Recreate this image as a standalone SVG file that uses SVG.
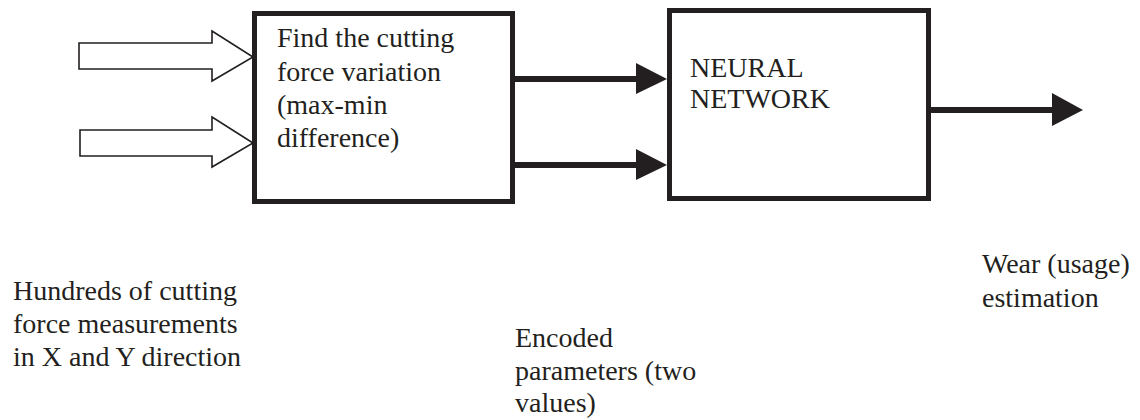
<svg xmlns="http://www.w3.org/2000/svg" width="1140" height="420" viewBox="0 0 1140 420">
  <style>
    .lbl { font-size: 28px; fill: #231f20; }
    .box { fill: #ffffff; stroke: #231f20; stroke-width: 5; }
    .hollow { fill: #ffffff; stroke: #231f20; stroke-width: 1.6; stroke-linejoin: miter; }
    .shaft { stroke: #231f20; stroke-width: 6; fill: none; }
    .head { fill: #231f20; stroke: none; }
  </style>
  <rect width="1140" height="420" fill="#ffffff"/>

  <!-- connectors -->
  <g id="connectors">
    <!-- raw measurement inputs (hollow block arrows) -->
    <path class="hollow" d="M79,43 H212 V31 L253,57 L212,81 V69 H79 Z"/>
    <path class="hollow" d="M80,130 H212 V117 L253,143 L212,167 V156 H80 Z"/>
    <!-- encoded parameters into the network -->
    <line class="shaft" x1="512" y1="79" x2="638" y2="79"/>
    <polygon class="head" points="636,63 667,79 636,94"/>
    <line class="shaft" x1="512" y1="165" x2="638" y2="165"/>
    <polygon class="head" points="636,149 667,165 636,180"/>
    <!-- wear estimate output -->
    <line class="shaft" x1="928" y1="110" x2="1054" y2="110"/>
    <polygon class="head" points="1052,93 1083,110 1052,126"/>
  </g>

  <g font-family="'Liberation Serif', Tinos, 'Times New Roman', 'DejaVu Serif', serif">
    <g id="node-variation">
      <rect class="box" x="254.5" y="13.5" width="258" height="188"/>
      <text class="lbl" x="277" y="47">Find the cutting</text>
      <text class="lbl" x="277" y="81">force variation</text>
      <text class="lbl" x="277" y="114">(max-min</text>
      <text class="lbl" x="277" y="147">difference)</text>
    </g>

    <g id="node-network">
      <rect class="box" x="669.5" y="10.5" width="259" height="188"/>
      <text class="lbl" x="690" y="77">NEURAL</text>
      <text class="lbl" x="690" y="108">NETWORK</text>
    </g>

    <g id="label-measurements">
      <text class="lbl" x="13" y="300">Hundreds of cutting</text>
      <text class="lbl" x="13" y="333">force measurements</text>
      <text class="lbl" x="13" y="366">in X and Y direction</text>
    </g>

    <g id="label-encoded">
      <text class="lbl" x="515" y="347">Encoded</text>
      <text class="lbl" x="515" y="380">parameters (two</text>
      <text class="lbl" x="515" y="412">values)</text>
    </g>

    <g id="label-wear">
      <text class="lbl" x="982" y="273">Wear (usage)</text>
      <text class="lbl" x="982" y="307">estimation</text>
    </g>
  </g>
</svg>
